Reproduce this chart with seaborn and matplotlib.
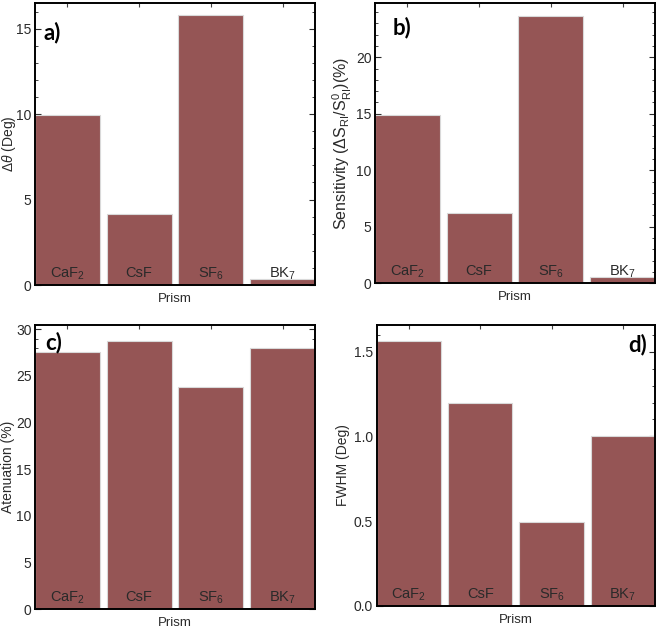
import numpy as np
import pandas as pd
import matplotlib
matplotlib.use("Agg")
import matplotlib.pyplot as plt
import matplotlib.transforms as mtransforms
from matplotlib.ticker import MultipleLocator
import seaborn as sns

# ---- data ----
prisms = ['CaF2', 'CsF', 'SF6', 'BK7']
prism_labels = ['CaF$_2$', 'CsF', 'SF$_6$', 'BK$_7$']
delta_theta = [9.95, 4.15, 15.8, 0.38]
sensitivity = [14.9, 6.25, 23.65, 0.6]
attenuation = [27.6, 28.8, 23.8, 28.0]
fwhm = [1.565, 1.20, 0.497, 1.0]

sns.set_style("ticks")
plt.rcParams['font.family'] = ['Liberation Sans', 'DejaVu Sans']
plt.rcParams['mathtext.fontset'] = 'custom'
plt.rcParams['mathtext.rm'] = 'Liberation Sans'
plt.rcParams['mathtext.it'] = 'Liberation Sans:italic'
plt.rcParams['mathtext.bf'] = 'Liberation Sans:bold'

bar_color = '#955555'
text_color = '#2a2a2a'

panels = [
    # values, ylabel, label size, ylabel x, ylim, major, minor, tag, tag position, axes rect
    (delta_theta, r'$\Delta\theta$ (Deg)', 10, -0.06, (0, 16.5), 5, 1,
     'a)', (0.03, 0.897), [0.0532, 0.5476, 0.4255, 0.4476]),
    (sensitivity, r'Sensitivity ($\Delta$S$_{\mathrm{RI}}$/S$_{\mathrm{RI}}^{0}$)(%)', 11.5, -0.075,
     (0, 24.8), 5, 1, 'b)', (0.064, 0.912), [0.570, 0.5503, 0.4255, 0.4449]),
    (attenuation, 'Atenuation (%)', 10, -0.07, (0, 30.46), 5, 1,
     'c)', (0.036, 0.938), [0.0532, 0.0329, 0.4255, 0.4512]),
    (fwhm, 'FWHM (Deg)', 10, -0.095, (0, 1.657), 0.5, 0.1,
     'd)', (0.905, 0.93), [0.5725, 0.0381, 0.4230, 0.4460]),
]

fig = plt.figure(figsize=(6.58, 6.30), dpi=100)

for values, ylabel, lsize, lx, ylim, major, minor, tag, tagpos, rect in panels:
    ax = fig.add_axes(rect)
    df = pd.DataFrame({'Prism': prisms, 'value': values})
    sns.barplot(data=df, x='Prism', y='value', order=prisms, color=bar_color,
                width=0.905, saturation=1, edgecolor='#d9d9d9', linewidth=0.8, ax=ax)
    ax.set_xlim(-0.45, 3.45)
    ax.set_ylim(*ylim)
    ax.yaxis.set_major_locator(MultipleLocator(major))
    ax.yaxis.set_minor_locator(MultipleLocator(minor))
    ax.set_xticks(range(len(prisms)))
    ax.set_xticklabels([])
    ax.tick_params(axis='both', which='major', direction='in', length=4, width=0.8,
                   top=True, right=True, labelsize=10, colors=text_color, pad=2.5)
    ax.tick_params(axis='both', which='minor', direction='in', length=2, width=0.6,
                   top=True, right=True)
    ax.tick_params(axis='x', which='major', length=3, color='#444444')
    for side in ax.spines.values():
        side.set_linewidth(1.4)
        side.set_color('black')
    ax.set_xlabel('Prism', fontsize=9.5, color=text_color, labelpad=3)
    ax.set_ylabel(ylabel, fontsize=lsize, color=text_color)
    ax.yaxis.set_label_coords(lx, 0.5)

    # prism names written inside the bars, near the base
    trans = mtransforms.blended_transform_factory(ax.transData, ax.transAxes)
    for i, lab in enumerate(prism_labels):
        ax.text(i, 0.028, lab, transform=trans, ha='center', va='baseline',
                fontsize=10.5, color=text_color)

    ax.text(tagpos[0], tagpos[1], tag, transform=ax.transAxes, ha='left', va='center',
            fontsize=16, fontweight='bold', color='black', family=['Lato', 'DejaVu Sans'])

fig.savefig('out.png', dpi=100)
